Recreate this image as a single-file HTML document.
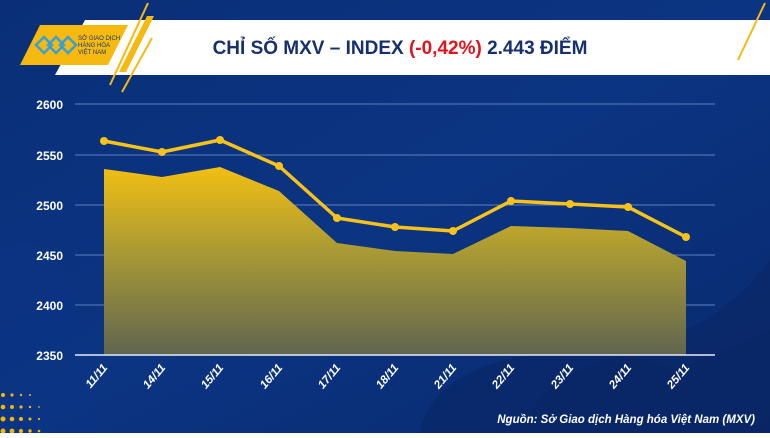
<!DOCTYPE html>
<html><head><meta charset="utf-8"><style>
html,body{margin:0;padding:0;}
body{width:770px;height:433px;overflow:hidden;font-family:"Liberation Sans","DejaVu Sans",sans-serif;}
</style></head><body>
<svg width="770" height="433" viewBox="0 0 770 433" xmlns="http://www.w3.org/2000/svg">
<defs>
<linearGradient id="bg" x1="0" y1="0" x2="1" y2="1">
<stop offset="0" stop-color="#0a2f78"/><stop offset="0.5" stop-color="#0b3482"/><stop offset="1" stop-color="#0a2a6e"/>
</linearGradient>
<linearGradient id="ar" x1="0" y1="0" x2="0" y2="1">
<stop offset="0" stop-color="#f2bf12"/><stop offset="0.45" stop-color="#a99a35"/><stop offset="1" stop-color="#60654f"/>
</linearGradient>
</defs>
<rect width="770" height="433" fill="url(#bg)"/>
<path d="M520 433 C560 330 680 380 770 260 L770 433Z" fill="#0a2766" opacity="0.6"/>
<path d="M420 433 C430 360 560 330 680 370 L770 330 L770 433Z" fill="#082461" opacity="0.5"/>
<path d="M0 250 C40 230 80 240 100 433 L0 433Z" fill="#0c3588" opacity="0.4"/>
<g fill="#f5b800">
<circle cx="3" cy="395" r="2"/><circle cx="12" cy="395" r="1.6"/><circle cx="21" cy="395" r="1.2"/><circle cx="30" cy="395" r="1"/>
<circle cx="3" cy="407" r="2.3"/><circle cx="12" cy="407" r="2"/><circle cx="21" cy="407" r="1.6"/><circle cx="30" cy="407" r="1.2"/><circle cx="39" cy="407" r="0.9"/>
<circle cx="3" cy="419" r="2.5"/><circle cx="12" cy="419" r="2.3"/><circle cx="21" cy="419" r="2"/><circle cx="30" cy="419" r="1.5"/><circle cx="39" cy="419" r="1.1"/>
<circle cx="3" cy="431" r="2.5"/><circle cx="12" cy="431" r="2.4"/><circle cx="21" cy="431" r="2.1"/><circle cx="30" cy="431" r="1.7"/><circle cx="39" cy="431" r="1.3"/>
</g>
<!-- banner -->
<polygon points="85,20 770,20 770,75 55,75" fill="#ffffff"/>
<polygon points="40,25 128,25 108,65 20,65" fill="#f5b90f"/>
<line x1="148" y1="3" x2="110" y2="85" stroke="#f5b90f" stroke-width="2"/>
<line x1="152" y1="38" x2="122" y2="92" stroke="#f5b90f" stroke-width="2"/>
<polygon points="147,16 154,16 126,72 119,72" fill="#f5b90f"/>
<line x1="765" y1="3" x2="738" y2="60" stroke="#f5b90f" stroke-width="2"/>
<g fill="none" stroke="#3a9fd8" stroke-width="2.5">
<path d="M36 45 l8 -8 l8 8 l-8 8 z"/><path d="M48 45 l8 -8 l8 8 l-8 8 z"/><path d="M60 45 l8 -8 l8 8 l-8 8 z"/>
</g>
<text x="78" y="40" font-size="6" fill="#1a3a7a">SỞ GIAO DỊCH</text>
<text x="78" y="47" font-size="6" fill="#1a3a7a">HÀNG HÓA</text>
<text x="78" y="54" font-size="6" fill="#1a3a7a">VIỆT NAM</text>
<text x="400" y="54" text-anchor="middle" font-size="19" font-weight="bold" fill="#14306e">CHỈ SỐ MXV – INDEX <tspan fill="#e4121b">(-0,42%)</tspan> 2.443 ĐIỂM</text>
<!-- grid -->
<g stroke="#5f7fbf" stroke-width="1">
<line x1="75" y1="104" x2="715" y2="104"/><line x1="75" y1="155" x2="715" y2="155"/><line x1="75" y1="205" x2="715" y2="205"/><line x1="75" y1="255" x2="715" y2="255"/><line x1="75" y1="305" x2="715" y2="305"/>
</g>
<g font-size="12" font-weight="bold" fill="#fff" text-anchor="end">
<text x="63" y="109">2600</text><text x="63" y="160">2550</text><text x="63" y="210">2500</text><text x="63" y="260">2450</text><text x="63" y="310">2400</text><text x="63" y="360">2350</text>
</g>
<polygon points="104,169 162,177 220,167 279,191 337,243 395,251 453,254 511,226 570,228 628,231 686,261 686,355 104,355" fill="url(#ar)"/>
<line x1="75" y1="355" x2="715" y2="355" stroke="#e8ecf5" stroke-width="1.5"/>
<polyline points="104,141 162,152 220,140 279,166 337,218 395,227 453,231 511,201 570,204 628,207 686,237" fill="none" stroke="#f7c31a" stroke-width="3.5" stroke-linejoin="round"/>
<g fill="#f7c31a">
<circle cx="104" cy="141" r="4"/><circle cx="162" cy="152" r="4"/><circle cx="220" cy="140" r="4"/><circle cx="279" cy="166" r="4"/><circle cx="337" cy="218" r="4"/><circle cx="395" cy="227" r="4"/><circle cx="453" cy="231" r="4"/><circle cx="511" cy="201" r="4"/><circle cx="570" cy="204" r="4"/><circle cx="628" cy="207" r="4"/><circle cx="686" cy="237" r="4"/>
</g>
<g font-size="11.5" font-weight="bold" font-style="italic" fill="#fff" text-anchor="end">
<text transform="translate(108,368) rotate(-50)">11/11</text>
<text transform="translate(166,368) rotate(-50)">14/11</text>
<text transform="translate(224,368) rotate(-50)">15/11</text>
<text transform="translate(283,368) rotate(-50)">16/11</text>
<text transform="translate(341,368) rotate(-50)">17/11</text>
<text transform="translate(399,368) rotate(-50)">18/11</text>
<text transform="translate(457,368) rotate(-50)">21/11</text>
<text transform="translate(515,368) rotate(-50)">22/11</text>
<text transform="translate(574,368) rotate(-50)">23/11</text>
<text transform="translate(632,368) rotate(-50)">24/11</text>
<text transform="translate(690,368) rotate(-50)">25/11</text>
</g>
<text x="755" y="423" text-anchor="end" font-size="11.5" font-weight="bold" font-style="italic" fill="#fff">Nguồn: Sở Giao dịch Hàng hóa Việt Nam (MXV)</text>
</svg>
</body></html>
